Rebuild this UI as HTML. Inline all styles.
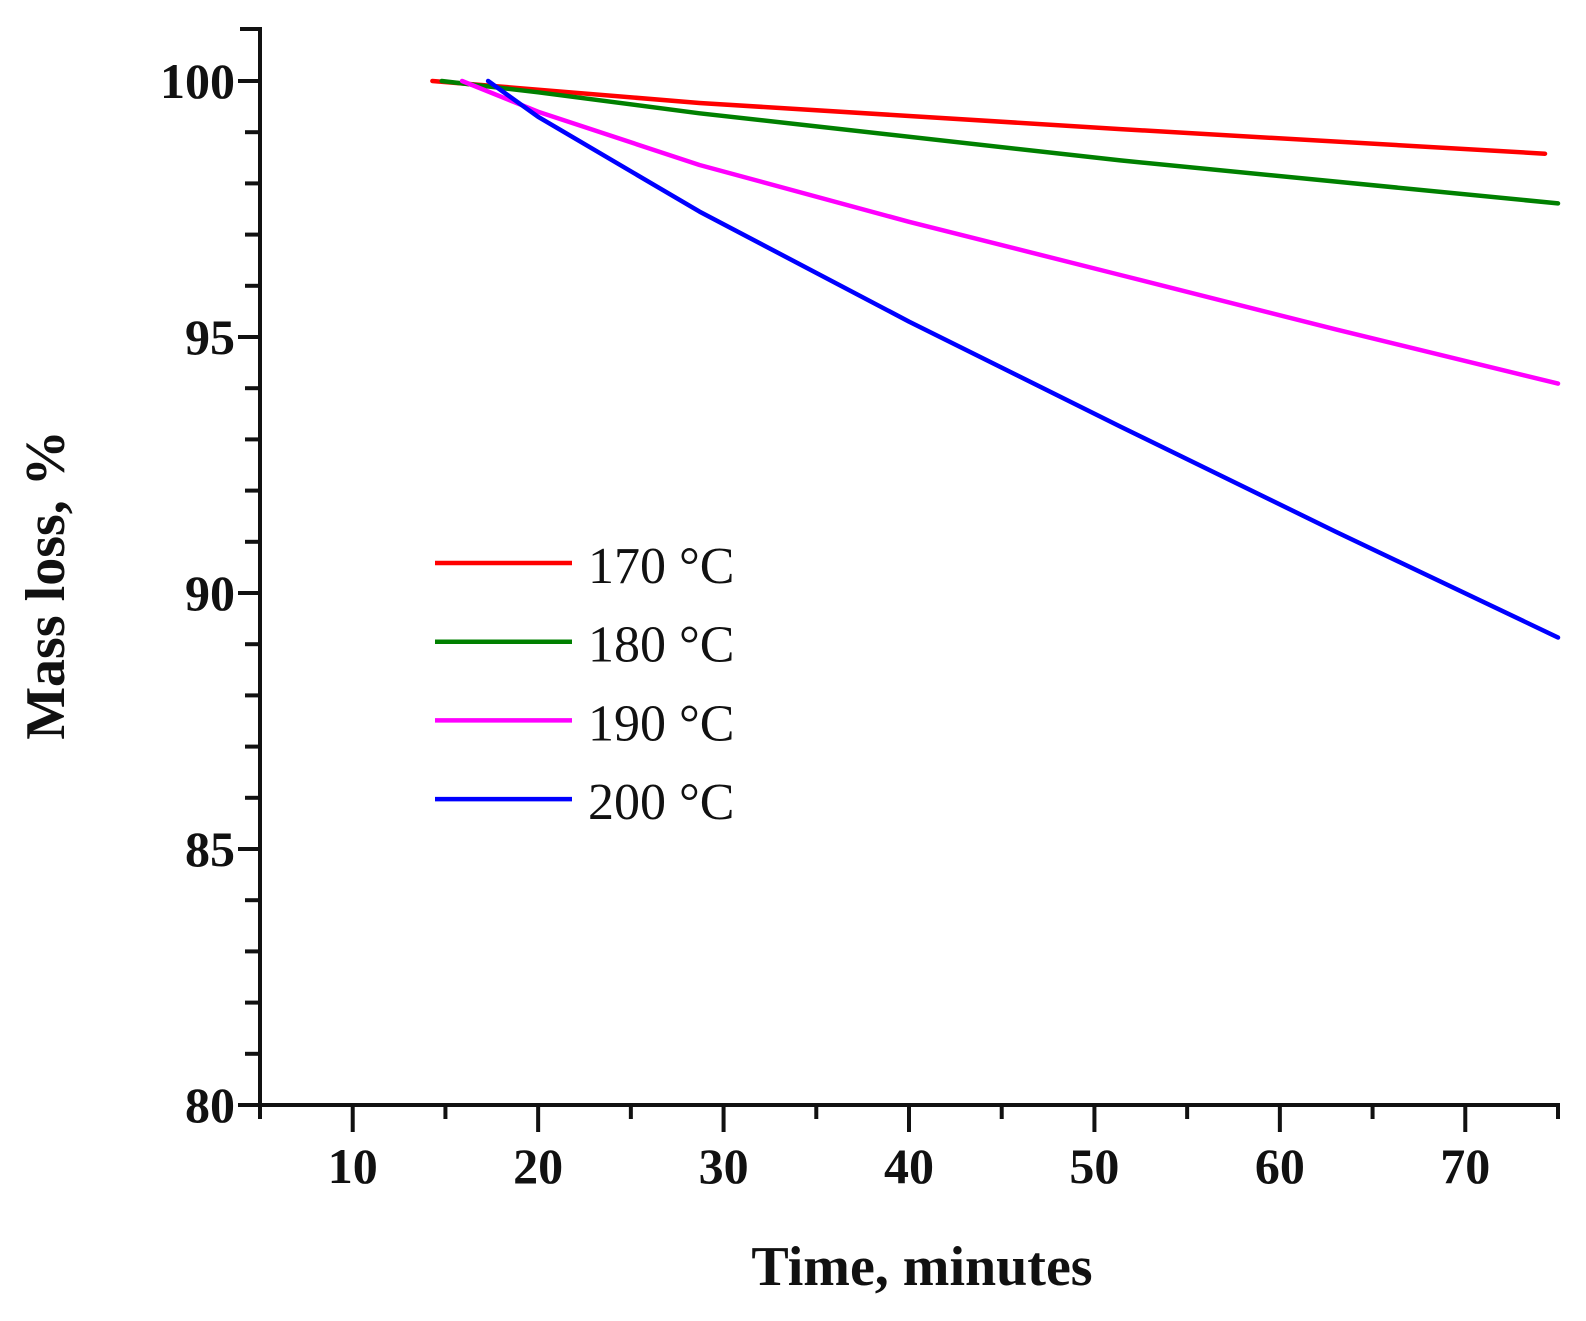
<!DOCTYPE html>
<html><head><meta charset="utf-8"><style>
html,body{margin:0;padding:0;background:#fff;}
svg{display:block;}
text{font-family:"Liberation Serif",serif;fill:#111;}
</style></head><body>
<svg id="chart" width="1586" height="1321" viewBox="0 0 1586 1321">
<g id="axes"></g>
<g id="series"></g>
<g id="legend"></g>
<text transform="translate(64,585) rotate(-90)" text-anchor="middle" font-size="56" font-weight="bold">Mass loss, %</text>
<text x="922" y="1285" text-anchor="middle" font-size="56" font-weight="bold">Time, minutes</text>
</svg>
<script>
const xTickLabels = [10, 20, 30, 40, 50, 60, 70];
const yTickLabels = [80, 85, 90, 95, 100];
const seriesNames = ["170 °C", "180 °C", "190 °C", "200 °C"];
const seriesColors = ["#ff0000", "#008000", "#ff00ff", "#0000ff"];
const t170 = [14.3, 28.7, 51.4, 74.3];
const m170 = [100, 99.57, 99.06, 98.58];
const t180 = [14.8, 20, 28.7, 51.4, 75];
const m180 = [100, 99.78, 99.37, 98.45, 97.61];
const t190 = [15.9, 20, 28.7, 40, 51.4, 63, 75];
const m190 = [100, 99.4, 98.36, 97.25, 96.21, 95.15, 94.09];
const t200 = [17.3, 20, 28.7, 40, 51.4, 63, 75];
const m200 = [100, 99.3, 97.45, 95.3, 93.25, 91.2, 89.13];

const NS = "http://www.w3.org/2000/svg";
const X0 = 260, X1 = 1558, Y0 = 1105, YTOP = 29;
function xs(t){ return X0 + (t - 5) * (X1 - X0) / 70; }
function ys(v){ return Y0 - (v - 80) * (Y0 - 81) / 20; }
function mk(tag, attrs, parent){ const e = document.createElementNS(NS, tag); for (const k in attrs) e.setAttribute(k, attrs[k]); parent.appendChild(e); return e; }

const axes = document.getElementById('axes');
const ax = mk('path', {d:`M${X0-20},${YTOP} H${X0} V${Y0} H${X1} V${Y0+14}`, stroke:'#111', 'stroke-width':4, fill:'none'}, axes);


for (let v = 80; v <= 100; v++) {
  const major = v % 5 === 0;
  const tk = mk('line', {x1:X0 - (major ? 22 : 15), x2:X0, y1:ys(v), y2:ys(v), stroke:'#111', 'stroke-width':4}, axes);
  
  
}
yTickLabels.forEach(v => {
  const tx = mk('text', {x:235, y:ys(v) + 17, 'text-anchor':'end', 'font-size':50, 'font-weight':'bold'}, axes);
  tx.textContent = v;
  
  
});
for (let t = 5; t <= 75; t += 5) {
  const major = t % 10 === 0;
  const tk = mk('line', {x1:xs(t), x2:xs(t), y1:Y0, y2:Y0 + (major ? 27 : 14), stroke:'#111', 'stroke-width':4}, axes);
  
  
}
xTickLabels.forEach(t => {
  const tx = mk('text', {x:xs(t), y:1183, 'text-anchor':'middle', 'font-size':50, 'font-weight':'bold'}, axes);
  tx.textContent = t;
  
  
});

const ser = document.getElementById('series');
const allT = [t170, t180, t190, t200], allM = [m170, m180, m190, m200];
allT.forEach((ts, i) => {
  const pts = ts.map((t, j) => xs(t).toFixed(1) + ',' + ys(allM[i][j]).toFixed(1)).join(' ');
  const pl = mk('polyline', {points:pts, fill:'none', stroke:seriesColors[i], 'stroke-width':4.5, 'stroke-linejoin':'round', 'stroke-linecap':'round'}, ser);
  
  
});

const leg = document.getElementById('legend');
seriesNames.forEach((n, i) => {
  const y = 563 + i * 78.7;
  const g = mk('g', {}, leg);
  
  
  mk('line', {x1:435, x2:572, y1:y, y2:y, stroke:seriesColors[i], 'stroke-width':4.5}, g);
  const tx = mk('text', {x:588, y:y + 20, 'font-size':52}, g);
  tx.textContent = n;
});
</script>
</body></html>
